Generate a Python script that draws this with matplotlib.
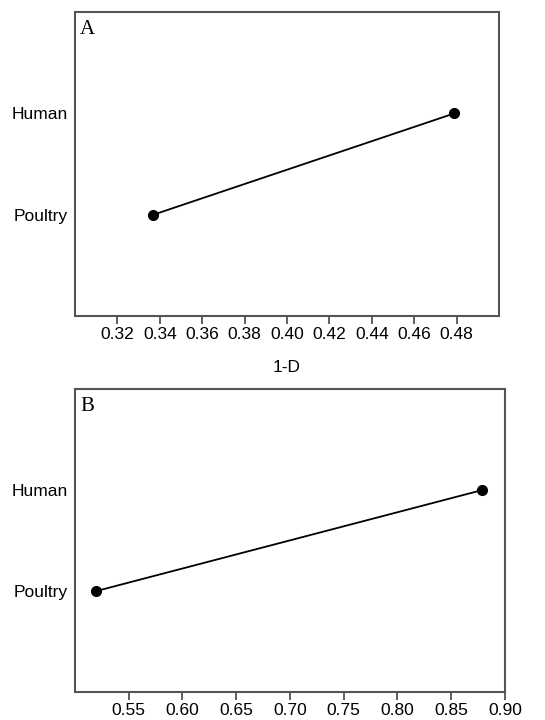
import matplotlib
matplotlib.use("Agg")
import matplotlib.pyplot as plt

# ==============================
# DATA
# ==============================
groups = ["Poultry", "Human"]
simpson_a = [0.337, 0.479]     # panel A, 1-D
simpson_b = [0.520, 0.879]     # panel B
ticks_a = [0.32, 0.34, 0.36, 0.38, 0.40, 0.42, 0.44, 0.46, 0.48]
ticks_b = [0.55, 0.60, 0.65, 0.70, 0.75, 0.80, 0.85, 0.90]

plt.rcParams["font.family"] = ["Liberation Sans", "DejaVu Sans"]

fig = plt.figure(figsize=(5.45, 7.2), dpi=100)
ax1 = fig.add_axes([0.1376, 0.5611, 0.778, 0.4222])
ax2 = fig.add_axes([0.1376, 0.0389, 0.789, 0.4208])

def draw(ax, vals, ticks, xlim, letter):
    ypos = list(range(1, len(groups) + 1))
    ax.plot(vals, ypos, color="black", lw=1.3, marker="o", ms=7)
    ax.set_xlim(*xlim)
    ax.set_ylim(0, len(groups) + 1)
    ax.set_xticks(ticks)
    ax.set_xticklabels([f"{t:.2f}" for t in ticks])
    ax.set_yticks(ypos)
    ax.set_yticklabels(groups)
    ax.tick_params(axis="x", length=6, width=1.2, pad=2, labelsize=12.5, color="#444444")
    ax.tick_params(axis="y", length=0, pad=5, labelsize=12.5)
    for s in ax.spines.values():
        s.set_linewidth(1.5)
        s.set_color("#555555")
    ax.text(0.012, 0.975, letter, transform=ax.transAxes, ha="left", va="top",
            fontsize=15, family="Liberation Serif")

draw(ax1, simpson_a, ticks_a, (0.30, 0.50), "A")
draw(ax2, simpson_b, ticks_b, (0.50, 0.90), "B")
ax1.set_xlabel("1-D", fontsize=12.5, labelpad=13)

fig.savefig("out.png", dpi=100)
